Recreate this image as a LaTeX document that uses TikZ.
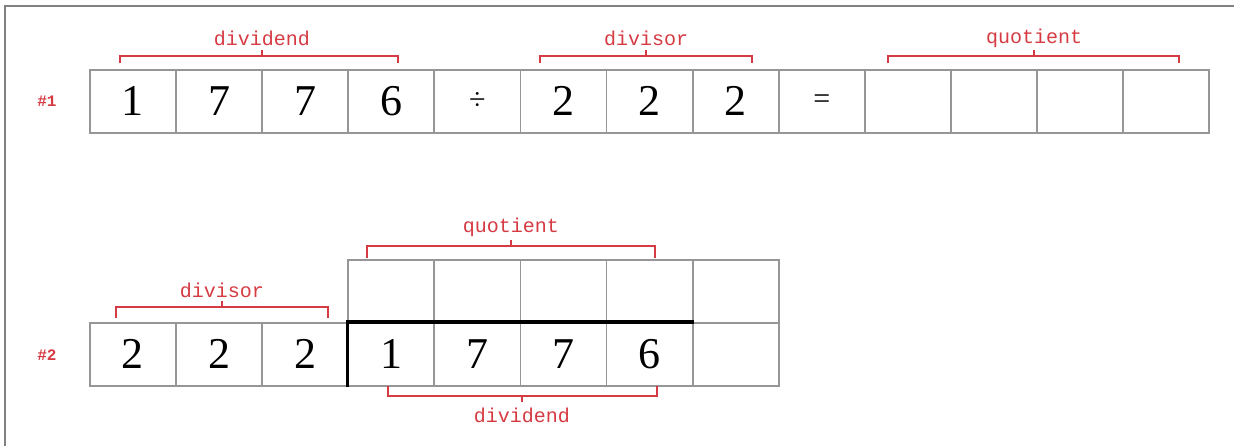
\documentclass[tikz,border=0pt]{standalone}
\usepackage{fontspec}
\setmainfont{Liberation Serif}
\newfontfamily\labfont{Liberation Mono}
\newcommand\opfont{\fontsize{30}{30}\selectfont}
\definecolor{labred}{RGB}{214,58,66}
\definecolor{cellgray}{RGB}{150,150,150}
\definecolor{framegray}{RGB}{130,130,130}
\tikzset{
  cellbox/.style={draw=cellgray, line width=1.8pt, minimum width=86.1pt, minimum height=63pt, inner sep=0pt, anchor=north west, font=\fontsize{44}{44}\selectfont},
  brack/.style={draw=labred, line width=1.5pt},
  lab/.style={text=labred, font=\labfont\fontsize{20}{20}\selectfont, inner sep=0pt},
  rowlab/.style={text=labred, font=\labfont\bfseries\fontsize{16}{16}\selectfont, inner sep=0pt},
  thickline/.style={draw=black, line width=3.5pt}
}
\begin{document}
\begin{tikzpicture}[x=1pt,y=-1pt]
\useasboundingbox (0,0) rectangle (1234,446);
% frame
\draw[framegray, line width=1.5pt] (5,446) -- (5,6) -- (1234,6);
% row 1
\def\xo{89}
\foreach \t [count=\i from 0] in {1,7,7,6,{\opfont ÷},2,2,2,{\opfont =},{},{},{},{}} {
  \node[cellbox] (a\i) at ({\xo+\i*86.1},69) {\t};
}
\node[rowlab] (r1) at (47,101) {\#1};
% row 1 brackets
\draw[brack] (120,63) -- (120,56) -- (398,56) -- (398,63);
\draw[brack] (262,56) -- (262,50);
\node[lab] (l1) at (262,38) {dividend};
\draw[brack] (540,63) -- (540,56) -- (752,56) -- (752,63);
\draw[brack] (646,56) -- (646,50);
\node[lab] (l2) at (646,38) {divisor};
\draw[brack] (888,63) -- (888,56) -- (1179,56) -- (1179,63);
\draw[brack] (1034,56) -- (1034,50);
\node[lab] (l3) at (1034,38) {quotient};
% row 2 lower
\foreach \t [count=\i from 0] in {2,2,2,1,7,7,6,{}} {
  \node[cellbox] (b\i) at ({\xo+\i*86.1},322) {\t};
}
% row 2 upper
\foreach \i in {3,...,7} {
  \node[cellbox] (c\i) at ({\xo+\i*86.1},259) {};
}
\draw[thickline] (b3.south west) -- (b3.north west) -- (b6.north east);
\node[rowlab] (r2) at (47,355) {\#2};
% row 2 brackets
\draw[brack] (116,318) -- (116,307) -- (328,307) -- (328,318);
\draw[brack] (222,307) -- (222,301);
\node[lab] (l4) at (222,290) {divisor};
\draw[brack] (367,258) -- (367,246) -- (655,246) -- (655,258);
\draw[brack] (511,246) -- (511,240);
\node[lab] (l5) at (511,227) {quotient};
\draw[brack] (388,386) -- (388,396) -- (657,396) -- (657,386);
\draw[brack] (522,396) -- (522,402);
\node[lab] (l6) at (522,415) {dividend};
\end{tikzpicture}
\end{document}
